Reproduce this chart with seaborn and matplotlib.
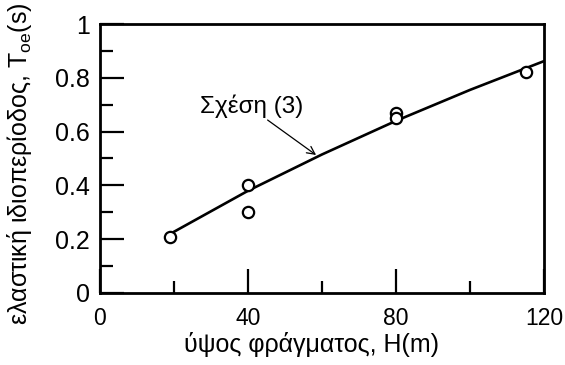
import matplotlib
matplotlib.use("Agg")
import matplotlib.pyplot as plt
import seaborn as sns
import pandas as pd
from matplotlib.ticker import MultipleLocator

# Observed data
H_obs = [19, 40, 40, 80, 80, 115]
T_obs = [0.21, 0.40, 0.30, 0.67, 0.65, 0.82]

# Relation (3) curve
H_fit = [19, 40, 60, 80, 100, 120]
T_fit = [0.22, 0.38, 0.515, 0.64, 0.755, 0.862]

x_ticks = [0, 40, 80, 120]
y_ticks = [0, 0.2, 0.4, 0.6, 0.8, 1.0]
y_tick_labels = ["0", "0.2", "0.4", "0.6", "0.8", "1"]

sns.set_theme(style="white")
plt.rcParams['font.family'] = ['Liberation Sans', 'DejaVu Sans']
plt.rcParams['mathtext.fontset'] = 'custom'
plt.rcParams['mathtext.rm'] = 'Liberation Sans'
plt.rcParams['mathtext.it'] = 'Liberation Sans:italic'

fig = plt.figure(figsize=(5.65, 3.65), dpi=100)
ax = fig.add_axes([100/565, 72/365, 444/565, 269/365])

df_obs = pd.DataFrame({"H": H_obs, "T": T_obs})
df_fit = pd.DataFrame({"H": H_fit, "T": T_fit})

sns.lineplot(data=df_fit, x="H", y="T", ax=ax, color="black", linewidth=1.9, zorder=2)
sns.scatterplot(data=df_obs, x="H", y="T", ax=ax, marker="o", s=66,
                facecolor="white", edgecolor="black", linewidth=1.6, zorder=3)

ax.text(27.0, 0.668, "Σχέση (3)", fontsize=17.5, ha="left", va="baseline", color="black")
ax.annotate("", xy=(58.4, 0.513), xytext=(45.3, 0.643),
            arrowprops=dict(arrowstyle="->", color="black", lw=0.9,
                            shrinkA=0, shrinkB=0, mutation_scale=14))

ax.set_xlim(0, 120)
ax.set_ylim(0, 1)
ax.set_xticks(x_ticks)
ax.set_xticklabels([str(v) for v in x_ticks])
ax.set_yticks(y_ticks)
ax.set_yticklabels(y_tick_labels)
ax.xaxis.set_minor_locator(MultipleLocator(20))
ax.yaxis.set_minor_locator(MultipleLocator(0.1))

ax.tick_params(which="both", direction="in", top=False, right=False,
               bottom=True, left=True, colors="black", width=1.6)
ax.tick_params(which="major", length=17)
ax.tick_params(axis="y", which="major", pad=7.5, labelsize=18)
ax.tick_params(axis="x", which="major", pad=10, labelsize=16.5)
ax.tick_params(which="minor", length=9)

for s in ax.spines.values():
    s.set_visible(True)
    s.set_color("black")
    s.set_linewidth(2)

ax.set_xlabel("ύψος φράγματος, H(m)", fontsize=18, color="black")
ax.xaxis.set_label_coords(0.477, -0.145)
ax.set_ylabel(r"ελαστική ιδιοπερίοδος, T$_{\mathrm{oe}}$(s)", fontsize=18,
              color="black")
ax.yaxis.set_label_coords(-0.148, 0.48)

fig.savefig("out.png", dpi=100, facecolor="white")
